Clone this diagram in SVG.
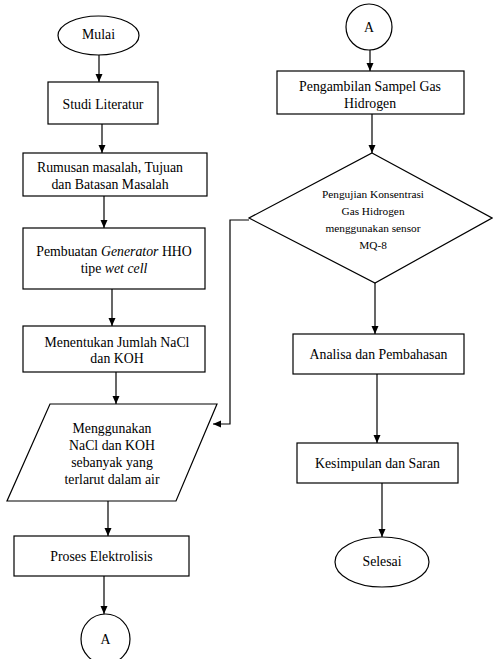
<svg xmlns="http://www.w3.org/2000/svg" width="493" height="659" viewBox="0 0 493 659">
<defs>
<marker id="ah" markerUnits="userSpaceOnUse" markerWidth="8" markerHeight="8" refX="8" refY="3.5" orient="auto">
<path d="M0,0 L8,3.5 L0,7 z" fill="#000"/>
</marker>
<style>
.s{fill:#fff;stroke:#000;stroke-width:1.2}
.t{font-family:"Liberation Serif","Times New Roman",serif;font-size:13.8px;fill:#000;text-anchor:middle}
.d{font-family:"Liberation Serif","Times New Roman",serif;font-size:11.3px;fill:#000;text-anchor:middle}
.c{fill:none;stroke:#000;stroke-width:1.2;marker-end:url(#ah)}
</style>
</defs>
<rect width="493" height="659" fill="#fff"/>
<g id="connectors">
<line class="c" x1="99" y1="55" x2="99" y2="82"/>
<line class="c" x1="102" y1="124" x2="102" y2="153"/>
<line class="c" x1="104" y1="196" x2="104" y2="228"/>
<line class="c" x1="112" y1="289" x2="112" y2="326"/>
<line class="c" x1="116" y1="372" x2="116" y2="404"/>
<line class="c" x1="108" y1="501" x2="108" y2="536"/>
<line class="c" x1="104" y1="576" x2="104" y2="614"/>
<polyline class="c" points="249,220 230,220 230,424 213,424"/>
<line class="c" x1="370" y1="50" x2="370" y2="71"/>
<line class="c" x1="372" y1="114" x2="372" y2="153"/>
<line class="c" x1="375" y1="283" x2="375" y2="334"/>
<line class="c" x1="377" y1="374" x2="377" y2="443"/>
<line class="c" x1="382" y1="483" x2="382" y2="537"/>
</g>
<g id="mulai">
<ellipse class="s" cx="98.5" cy="35.5" rx="40.5" ry="19.5"/>
<text class="t" x="98.5" y="38.5">Mulai</text>
</g>
<g id="studi">
<rect class="s" x="48" y="82" width="110" height="42"/>
<text class="t" x="103" y="108.5">Studi Literatur</text>
</g>
<g id="rumusan">
<rect class="s" x="23" y="153" width="184" height="43"/>
<text class="t" x="110" y="171.5">Rumusan masalah, Tujuan</text>
<text class="t" x="110" y="188.5">dan Batasan Masalah</text>
</g>
<g id="pembuatan">
<rect class="s" x="23" y="228" width="182" height="61"/>
<text class="t" x="114" y="256">Pembuatan <tspan font-style="italic">Generator</tspan> HHO</text>
<text class="t" x="114" y="273">tipe <tspan font-style="italic">wet cell</tspan></text>
</g>
<g id="menentukan">
<rect class="s" x="23" y="326" width="182" height="46"/>
<text class="t" x="117" y="347">Menentukan Jumlah NaCl</text>
<text class="t" x="117" y="363">dan KOH</text>
</g>
<g id="menggunakan">
<polygon class="s" points="50,404 217,404 176,501 7,501"/>
<text class="t" x="112" y="433">Menggunakan</text>
<text class="t" x="112" y="450">NaCl dan KOH</text>
<text class="t" x="112" y="467">sebanyak yang</text>
<text class="t" x="112" y="484">terlarut dalam air</text>
</g>
<g id="proses">
<rect class="s" x="14" y="536" width="175" height="40"/>
<text class="t" x="101.5" y="561">Proses Elektrolisis</text>
</g>
<g id="a-bottom">
<ellipse class="s" cx="105.5" cy="639" rx="24.5" ry="25"/>
<text class="t" x="105.5" y="644">A</text>
</g>
<g id="a-top">
<ellipse class="s" cx="369" cy="27" rx="23" ry="23"/>
<text class="t" x="369" y="32">A</text>
</g>
<g id="pengambilan">
<rect class="s" x="277" y="71" width="187" height="43"/>
<text class="t" x="370" y="91">Pengambilan Sampel Gas</text>
<text class="t" x="370" y="108">Hidrogen</text>
</g>
<g id="pengujian">
<polygon class="s" points="372,153 492,218 375,283 249,218"/>
<text class="d" x="373" y="198">Pengujian Konsentrasi</text>
<text class="d" x="373" y="215">Gas Hidrogen</text>
<text class="d" x="373" y="232">menggunakan sensor</text>
<text class="d" x="373" y="249">MQ-8</text>
</g>
<g id="analisa">
<rect class="s" x="293" y="334" width="171" height="40"/>
<text class="t" x="378.5" y="359">Analisa dan Pembahasan</text>
</g>
<g id="kesimpulan">
<rect class="s" x="297" y="443" width="161" height="40"/>
<text class="t" x="377.5" y="468">Kesimpulan dan Saran</text>
</g>
<g id="selesai">
<ellipse class="s" cx="382" cy="562" rx="47" ry="25"/>
<text class="t" x="382" y="566">Selesai</text>
</g>
</svg>
